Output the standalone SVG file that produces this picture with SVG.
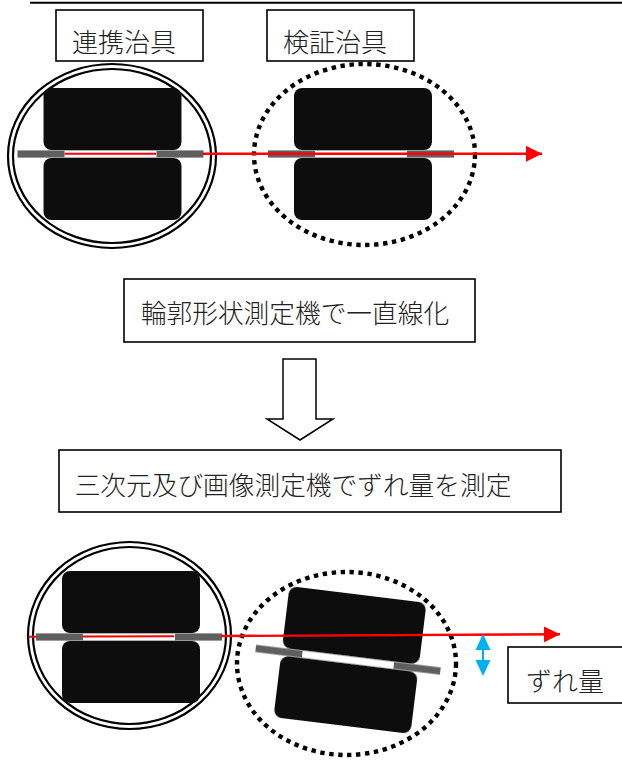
<svg xmlns="http://www.w3.org/2000/svg" xmlns:xlink="http://www.w3.org/1999/xlink" width="622" height="760" viewBox="0 0 622 760">
  <style>
    .box { fill: #fff; stroke: #000; stroke-width: 1.6; }
    .lbl { font-family: "Liberation Serif", "Noto Sans CJK JP", serif; font-size: 26px; fill: #222; text-anchor: middle; font-weight: 300; }
    .ring { fill: none; stroke: #000; stroke-width: 2.2; }
    .dots { fill: none; stroke: #000; stroke-width: 4.4; stroke-dasharray: 4.4 4.6; }
    .beam { fill: none; stroke: #ff0000; stroke-width: 2.4; }
    .gap  { fill: none; stroke: #ff0000; stroke-width: 2; }
  </style>
  <defs>
    <filter id="soft" x="-10%" y="-10%" width="120%" height="120%">
      <feGaussianBlur stdDeviation="0.75"/>
    </filter>
    <!-- clamp fixture: two blocks with the joint bar between them, centred on 0,0 -->
    <g id="fixture">
      <rect x="-69" y="-66" width="138" height="62" rx="8" fill="#101010"/>
      <rect x="-69" y="4" width="138" height="62" rx="8" fill="#101010"/>
      <rect x="-95" y="-3.6" width="186" height="7.2" fill="#5e5e5e"/>
      <rect x="-48" y="-3.2" width="92" height="6.4" fill="#fff"/>
    </g>
    <marker id="redHead" viewBox="0 0 16 16" refX="16" refY="8" markerWidth="16" markerHeight="16" markerUnits="userSpaceOnUse" orient="auto">
      <path d="M0,0 L16,8 L0,16 Z" fill="#ff0000"/>
    </marker>
  </defs>

  <!-- header rule -->
  <line x1="30" y1="2.8" x2="622" y2="2.8" stroke="#000" stroke-width="2"/>

  <!-- upper row: jigs before alignment -->
  <g id="jig-link-top">
    <ellipse class="ring" cx="112" cy="156" rx="104" ry="92"/>
    <ellipse class="ring" cx="112" cy="156" rx="99" ry="87"/>
    <use xlink:href="#fixture" transform="translate(112.5,154)" filter="url(#soft)"/>
  </g>
  <g id="jig-verify-top">
    <ellipse class="dots" cx="364.5" cy="154.5" rx="110.5" ry="90.5"/>
    <use xlink:href="#fixture" transform="translate(363,154)" filter="url(#soft)"/>
  </g>

  <g id="label-link">
    <rect class="box" x="56" y="10" width="147" height="51"/>
    <text class="lbl" x="124" y="52">連携治具</text>
  </g>
  <g id="label-verify">
    <rect class="box" x="267" y="10" width="147" height="51"/>
    <text class="lbl" x="335" y="52">検証治具</text>
  </g>

  <!-- process steps -->
  <g id="step-align">
    <rect class="box" x="124" y="279" width="351" height="63"/>
    <text class="lbl" x="295" y="323" style="font-size:25.7px">輪郭形状測定機で一直線化</text>
  </g>
  <g id="step-measure">
    <rect class="box" x="59" y="450" width="502" height="62"/>
    <text class="lbl" x="293" y="495" style="font-size:25.7px">三次元及び画像測定機でずれ量を測定</text>
  </g>

  <!-- lower row: jigs after measurement -->
  <g id="jig-link-bottom">
    <ellipse class="ring" cx="129.5" cy="635.5" rx="101.5" ry="93.5"/>
    <ellipse class="ring" cx="129.5" cy="635.5" rx="96.5" ry="88.5"/>
    <use xlink:href="#fixture" transform="translate(131,637)" filter="url(#soft)"/>
  </g>
  <g id="jig-verify-bottom">
    <ellipse class="dots" cx="346.5" cy="663.5" rx="109.5" ry="91.5"/>
    <use xlink:href="#fixture" transform="translate(350,660) rotate(7)" filter="url(#soft)"/>
  </g>

  <g id="label-offset">
    <rect class="box" x="508" y="647" width="122" height="56"/>
    <text class="lbl" x="565" y="691">ずれ量</text>
  </g>

  <!-- connectors -->
  <g id="connectors">
    <!-- reference axis, upper row -->
    <line class="gap" x1="64.5" y1="153.8" x2="156" y2="153.8"/>
    <line class="beam" x1="203" y1="153.8" x2="542" y2="153.8" marker-end="url(#redHead)"/>
    <!-- reference axis, lower row -->
    <line class="gap" x1="29" y1="636.8" x2="36" y2="636.7"/>
    <line class="gap" x1="83" y1="636.5" x2="174" y2="636.2"/>
    <line class="beam" x1="221" y1="636" x2="560" y2="634.3" marker-end="url(#redHead)"/>
    <!-- hollow down arrow between steps -->
    <path d="M283,359 H316 V419 H333 L300,440 L267,419 H283 Z" fill="#fff" stroke="#000" stroke-width="1.5"/>
    <!-- offset dimension -->
    <g id="offset-dimension" fill="#00b0f0">
      <path d="M475.5,650 L483,634 L490.5,650 Z"/>
      <rect x="482" y="649" width="2" height="12"/>
      <path d="M475.5,660 L490.5,660 L483,676 Z"/>
    </g>
  </g>
</svg>
